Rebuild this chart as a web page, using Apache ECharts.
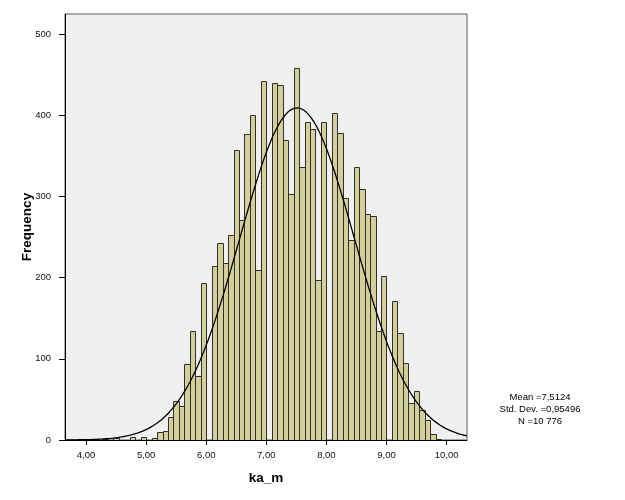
<!DOCTYPE html>
<html>
<head>
<meta charset="utf-8">
<script src="https://cdn.jsdelivr.net/npm/echarts@6/dist/echarts.min.js"></script>
<style>
html,body{margin:0;padding:0;background:#fff;}
#chart{width:625px;height:500px;}
</style>
</head>
<body>
<div id="chart"></div>
<script>
// Histogram bins: width 1/11 starting at 4.00
var binStart = 4.0;
var binWidth = 1 / 11;
var counts = [0,0,0,1,0,2,0,0,4,0,4,0,2,10,11,28,48,42,94,134,79,194,0,
  215,243,218,253,357,271,377,400,210,443,0,
  440,437,370,303,459,337,392,383,197,392,0,
  403,378,298,247,336,309,278,276,134,202,0,
  171,132,95,45,60,37,25,8,1];
var xTicks = [4,5,6,7,8,9,10];
var yTicks = [0,100,200,300,400,500];
var statMean = 7.5124;
var statSD = 0.95496;
var statN = 10776;
var statLines = ['Mean =7,5124', 'Std. Dev. =0,95496', 'N =10 776'];

var xMin = 3.65, xMax = 10.34, yMax = 525;

var barData = counts.map(function (c, k) {
  return [binStart + k * binWidth, binStart + (k + 1) * binWidth, c];
}).filter(function (d) { return d[2] > 0; });

var curve = [];
for (var i = 0; i <= 300; i++) {
  var x = xMin + (xMax - xMin) * i / 300;
  var z = (x - statMean) / statSD;
  curve.push([x, statN * binWidth * Math.exp(-0.5 * z * z) / (statSD * Math.sqrt(2 * Math.PI))]);
}

var chart = echarts.init(document.getElementById('chart'), null, {renderer: 'canvas'});
var font = 'Arial, "Liberation Sans", sans-serif';
chart.setOption({
  animation: false,
  backgroundColor: '#ffffff',
  grid: {left: 65, right: 158, top: 14, bottom: 60, show: true,
    backgroundColor: '#F0F0F0', borderColor: '#5a5a5a', borderWidth: 1},
  xAxis: {
    type: 'value', min: xMin, max: xMax,
    name: 'ka_m', nameLocation: 'middle', nameGap: 31, nameMoveOverlap: false,
    nameTextStyle: {fontFamily: font, fontSize: 13.5, fontWeight: 'bold', color: '#000'},
    axisLine: {show: true, lineStyle: {color: '#000', width: 1}},
    axisTick: {show: true, length: 5, lineStyle: {color: '#000'}, customValues: xTicks},
    axisLabel: {fontFamily: font, fontSize: 9.5, color: '#111', margin: 10,
      customValues: xTicks,
      formatter: function (v) { return v.toFixed(2).replace('.', ','); }},
    splitLine: {show: false}
  },
  yAxis: {
    type: 'value', min: 0, max: yMax,
    name: 'Frequency', nameLocation: 'middle', nameGap: 31, nameMoveOverlap: false,
    nameTextStyle: {fontFamily: font, fontSize: 13.5, fontWeight: 'bold', color: '#000'},
    axisLine: {show: true, lineStyle: {color: '#000', width: 1}},
    axisTick: {show: true, length: 6, lineStyle: {color: '#000'}, customValues: yTicks},
    axisLabel: {fontFamily: font, fontSize: 9.5, color: '#111', margin: 14,
      customValues: yTicks},
    splitLine: {show: false}
  },
  series: [
    {
      type: 'custom',
      data: barData,
      clip: true,
      renderItem: function (params, api) {
        var p0 = api.coord([api.value(0), api.value(2)]);
        var p1 = api.coord([api.value(1), 0]);
        return {
          type: 'rect',
          shape: {x: Math.round(p0[0]) + 0.5, y: Math.round(p0[1]) + 0.5,
                  width: Math.round(p1[0]) - Math.round(p0[0]),
                  height: Math.round(p1[1]) - Math.round(p0[1])},
          style: {fill: '#D4CF98', stroke: '#2e2e2e', lineWidth: 1}
        };
      }
    },
    {
      type: 'line',
      data: curve,
      showSymbol: false,
      smooth: false,
      lineStyle: {color: '#000', width: 1.3},
      z: 5
    }
  ],
  graphic: statLines.map(function (t, i) {
    return {type: 'text', x: 540, y: 392 + i * 12,
      style: {text: t, font: '9.5px ' + font, fill: '#000',
        textAlign: 'center', align: 'center', textVerticalAlign: 'top', verticalAlign: 'top'}};
  })
});
</script>
</body>
</html>
